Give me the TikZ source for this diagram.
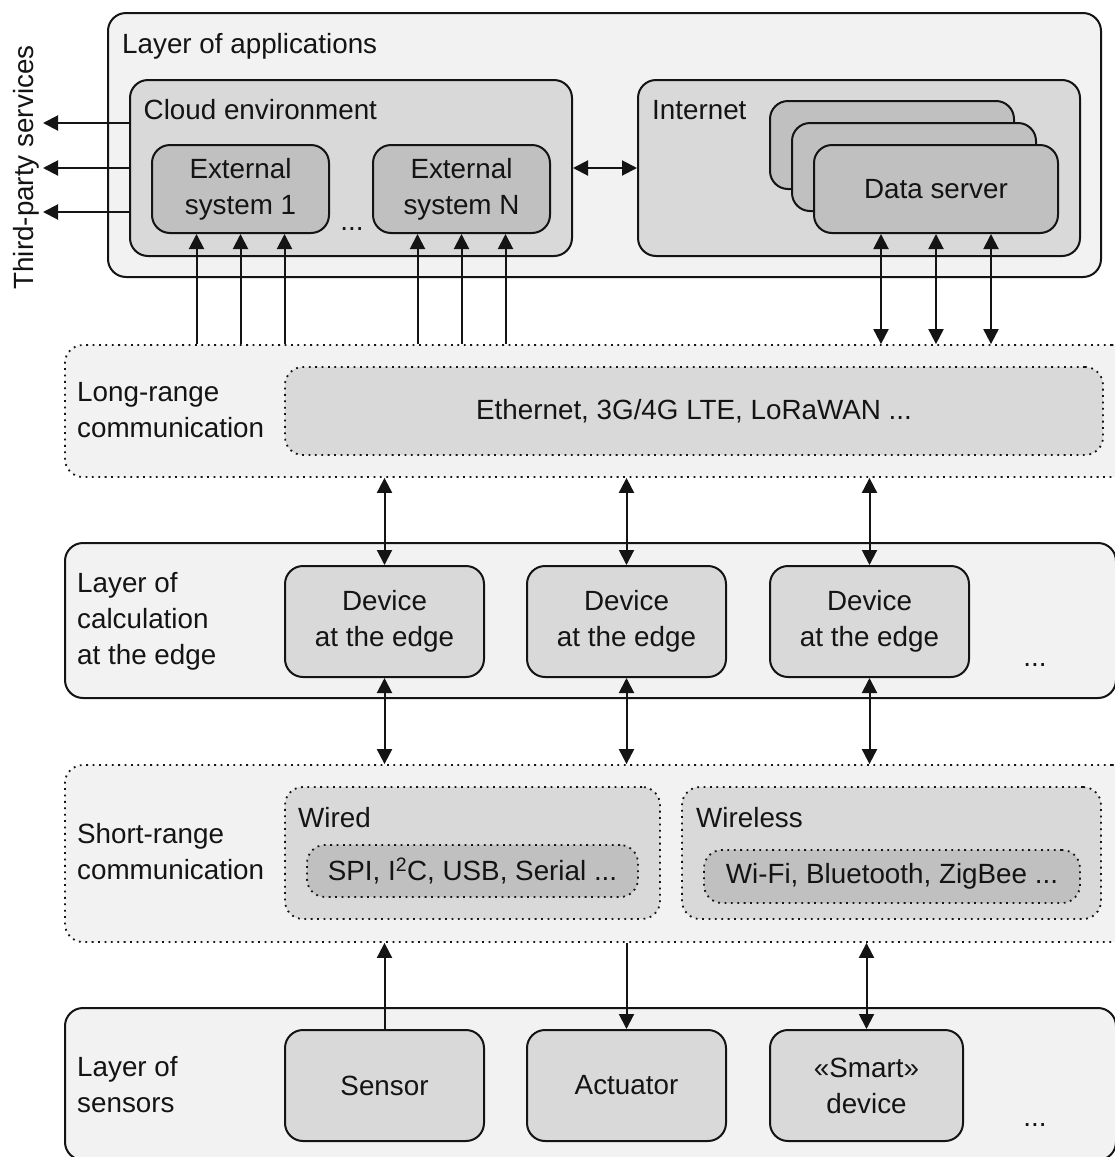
\documentclass[tikz,border=0pt]{standalone}
\usepackage{fontspec}
\setmainfont{Liberation Sans}
\usetikzlibrary{arrows.meta}
\definecolor{layerfill}{HTML}{F2F2F2}
\definecolor{midfill}{HTML}{D9D9D9}
\definecolor{darkfill}{HTML}{C0C0C0}
\definecolor{ink}{HTML}{141414}
\begin{document}
\begin{tikzpicture}[x=1pt,y=-1pt,
  every node/.style={font=\fontsize{27.8}{36}\selectfont, text=ink, inner sep=0pt},
  box/.style={draw=ink, line width=2pt, rounded corners=18pt, align=center},
  dotbox/.style={draw=ink, line width=1.8pt, dash pattern=on 1.8pt off 4.6pt, rounded corners=18pt, align=center},
  layer/.style={box, fill=layerfill},
  dlayer/.style={dotbox, fill=layerfill},
  mid/.style={box, fill=midfill},
  dmid/.style={dotbox, fill=midfill},
  dark/.style={box, fill=darkfill},
  ddark/.style={dotbox, fill=darkfill},
  % labels are placed by the baseline of their last line
  label/.style={anchor=base west, align=left},
  arr/.style={draw=ink, line width=2pt, -{Triangle[length=15pt,width=15pt]}},
  both/.style={draw=ink, line width=2pt, {Triangle[length=15pt,width=15pt]}-{Triangle[length=15pt,width=15pt]}},
]
\useasboundingbox (0,0) rectangle (1115,1157);
\clip (0,0) rectangle (1115,1157);
\fill[white] (0,0) rectangle (1115,1157);

% ---------- Layer of applications ----------
\node[layer, minimum width=993pt, minimum height=264pt] (app) at (604.5,145) {};
\node[label] (applbl) at (122,53) {Layer of applications};

\node[mid, minimum width=442pt, minimum height=176pt] (cloud) at (351,168) {};
\node[label] (cloudlbl) at (143.5,119) {Cloud environment};
\node[dark, minimum width=177pt, minimum height=88pt] (ext1) at (240.5,189) {External\\system 1};
\node[dark, minimum width=177pt, minimum height=88pt] (extN) at (461.5,189) {External\\system N};
\node[anchor=base] (extdots) at (352,230) {...};

\node[mid, minimum width=442pt, minimum height=176pt] (internet) at (859,168) {};
\node[label] (netlbl) at (652,119) {Internet};
\node[dark, minimum width=244pt, minimum height=88pt] (ds3) at (892,145) {};
\node[dark, minimum width=244pt, minimum height=88pt] (ds2) at (914,167) {};
\node[dark, minimum width=244pt, minimum height=88pt] (ds) at (936,189) {Data server};

% third-party services on the left
\node[rotate=90, anchor=base] (third) at (33,167.5) {Third-party services};
\coordinate (tp1) at (43,123);
\coordinate (tp2) at (43,168);
\coordinate (tp3) at (43,212);
\foreach \t in {tp1,tp2,tp3} \draw[arr] (cloud.west |- \t) -- (\t);
\draw[both] (cloud.east) -- (internet.west);

% ---------- Long-range communication ----------
\node[dlayer, minimum width=1065pt, minimum height=132pt] (long) at (597.5,411) {};
\node[label] (longlbl) at (77,437) {Long-range\\communication};
\node[dmid, minimum width=818pt, minimum height=88pt] (longnet) at (694,411) {Ethernet, 3G/4G LTE, LoRaWAN ...};

\foreach \e in {ext1,extN}
  \foreach \dx in {-44,0,44} {
    \path ([xshift=\dx pt]\e.south) coordinate (up);
    \draw[arr] (up |- long.north) -- (up);
  }
\foreach \dx in {-55,0,55} {
  \path ([xshift=\dx pt]ds.south) coordinate (dn);
  \draw[both] (dn) -- (dn |- long.north);
}

% ---------- Layer of calculation at the edge ----------
\node[layer, minimum width=1051pt, minimum height=155pt] (edge) at (590.5,620.5) {};
\node[label] (edgelbl) at (77,664) {Layer of\\calculation\\at the edge};
\node[mid, minimum width=199pt, minimum height=111pt] (dev1) at (384.5,621.5) {Device\\at the edge};
\node[mid, minimum width=199pt, minimum height=111pt] (dev2) at (626.5,621.5) {Device\\at the edge};
\node[mid, minimum width=199pt, minimum height=111pt] (dev3) at (869.5,621.5) {Device\\at the edge};
\node[anchor=base] (edgedots) at (1035,666) {...};

% ---------- Short-range communication ----------
\node[dlayer, minimum width=1065pt, minimum height=177pt] (short) at (597.5,853.5) {};
\node[label] (shortlbl) at (77,879) {Short-range\\communication};
\node[dmid, minimum width=375pt, minimum height=132pt] (wired) at (472.5,853) {};
\node[label] (wiredlbl) at (298,827) {Wired};
\node[ddark, minimum width=331pt, minimum height=52pt] (wiredp) at (472.5,871) {SPI, I\textsuperscript{2}C, USB, Serial ...};
\node[dmid, minimum width=419pt, minimum height=132pt] (wireless) at (891.5,853) {};
\node[label] (wirelesslbl) at (696,827) {Wireless};
\node[ddark, minimum width=376pt, minimum height=53pt] (wirelessp) at (892,876.5) {Wi-Fi, Bluetooth, ZigBee ...};

\foreach \d in {dev1,dev2,dev3} {
  \draw[both] (long.south -| \d.north) -- (\d.north);
  \draw[both] (\d.south) -- (\d.south |- short.north);
}

% ---------- Layer of sensors ----------
\node[layer, minimum width=1051pt, minimum height=152pt] (sens) at (590.5,1084) {};
\node[label] (senslbl) at (77,1112) {Layer of\\sensors};
\node[mid, minimum width=199pt, minimum height=111pt] (sensor) at (384.5,1085.5) {Sensor};
\node[mid, minimum width=199pt, minimum height=111pt] (actuator) at (626.5,1085.5) {Actuator};
\node[mid, minimum width=193pt, minimum height=111pt] (smart) at (866.5,1085.5) {«Smart»\\device};
\node[anchor=base] (sensdots) at (1035,1126) {...};

\draw[arr] (sensor.north) -- (sensor.north |- short.south);
\draw[arr] (actuator.north |- short.south) -- (actuator.north);
\draw[both] (smart.north |- short.south) -- (smart.north);
\end{tikzpicture}
\end{document}
